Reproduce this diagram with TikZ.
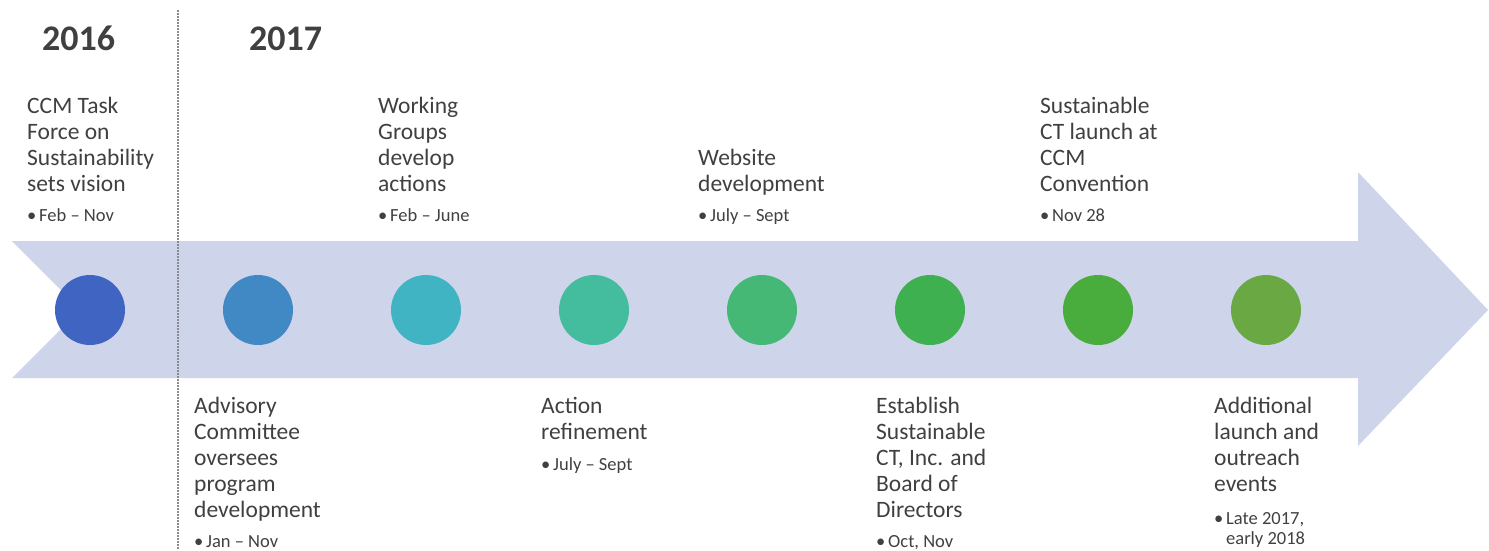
\documentclass[tikz,border=0pt]{standalone}
\usepackage{fontspec}
\setmainfont{Carlito}
\definecolor{arrowfill}{HTML}{CED5EA}
\definecolor{txt}{HTML}{404040}
\definecolor{cA}{HTML}{3F64C2}
\definecolor{cB}{HTML}{4189C4}
\definecolor{cC}{HTML}{40B4C2}
\definecolor{cD}{HTML}{44BC9E}
\definecolor{cE}{HTML}{45B875}
\definecolor{cF}{HTML}{3EB04F}
\definecolor{cG}{HTML}{49AD3D}
\definecolor{cH}{HTML}{6AA843}
\definecolor{divider}{HTML}{8C8C8C}
\newcommand{\bul}{\makebox[12pt][l]{\textbullet}}
\begin{document}
\begin{tikzpicture}[x=1pt,y=-1pt,
  year/.style={anchor=base west,inner sep=0pt,text=txt,font=\fontsize{36}{40}\selectfont\bfseries},
  label/.style={anchor=base west,inner sep=0pt,align=left,text=txt,font=\fontsize{23.5}{26}\selectfont},
  when/.style={anchor=base west,inner sep=0pt,align=left,text=txt,font=\fontsize{18.5}{20}\selectfont},
  dot/.style={circle,minimum size=70pt,inner sep=0pt,draw=none},
  divline/.style={draw=divider,line width=1.2pt,dash pattern=on 1.5pt off 1.5pt}
]
\useasboundingbox (0,0) rectangle (1489,550);
% arrow band
\fill[arrowfill] (12,241) -- (1358,241) -- (1358,172) -- (1488,310) -- (1358,446) -- (1358,378) -- (12,378) -- (80.5,309.5) -- cycle;
% divider
\coordinate (dtop) at (178,10);
\coordinate (dbot) at (178,550);
\draw[divline] (dtop) -- (dbot);
% years
\node[year] (y16) at (42,50) {2016};
\node[year] (y17) at (249,50) {2017};
% circles
\node[dot,fill=cA] (c1) at (90,310) {};
\node[dot,fill=cB] (c2) at (258,310) {};
\node[dot,fill=cC] (c3) at (426,310) {};
\node[dot,fill=cD] (c4) at (594,310) {};
\node[dot,fill=cE] (c5) at (762,310) {};
\node[dot,fill=cF] (c6) at (930,310) {};
\node[dot,fill=cG] (c7) at (1098,310) {};
\node[dot,fill=cH] (c8) at (1266,310) {};
% top labels (anchor = baseline of last line)
\node[label] (t1) at (27,191) {CCM Task\\Force on\\Sustainability\\sets vision};
\node[when] (b1) at (27,221) {\bul Feb – Nov};
\node[label] (t3) at (378,191) {Working\\Groups\\develop\\actions};
\node[when] (b3) at (378,221) {\bul Feb – June};
\node[label] (t5) at (698,191) {Website\\development};
\node[when] (b5) at (698,221) {\bul July – Sept};
\node[label] (t7) at (1040,191) {Sustainable\\CT launch at\\CCM\\Convention};
\node[when] (b7) at (1040,221) {\bul Nov 28};
% bottom labels
\node[label] (t2) at (194,517) {Advisory\\Committee\\oversees\\program\\development};
\node[when] (b2) at (194,547) {\bul Jan – Nov};
\node[label] (t4) at (541,439) {Action\\refinement};
\node[when] (b4) at (541,470) {\bul July – Sept};
\node[label] (t6) at (876,517) {Establish\\Sustainable\\CT, Inc. and\\Board of\\Directors};
\node[when] (b6) at (876,547) {\bul Oct, Nov};
\node[label] (t8) at (1214,491) {Additional\\launch and\\outreach\\events};
\node[when] (b8) at (1214,544) {\bul Late 2017,\\\hspace*{12pt}early 2018};
\end{tikzpicture}
\end{document}
